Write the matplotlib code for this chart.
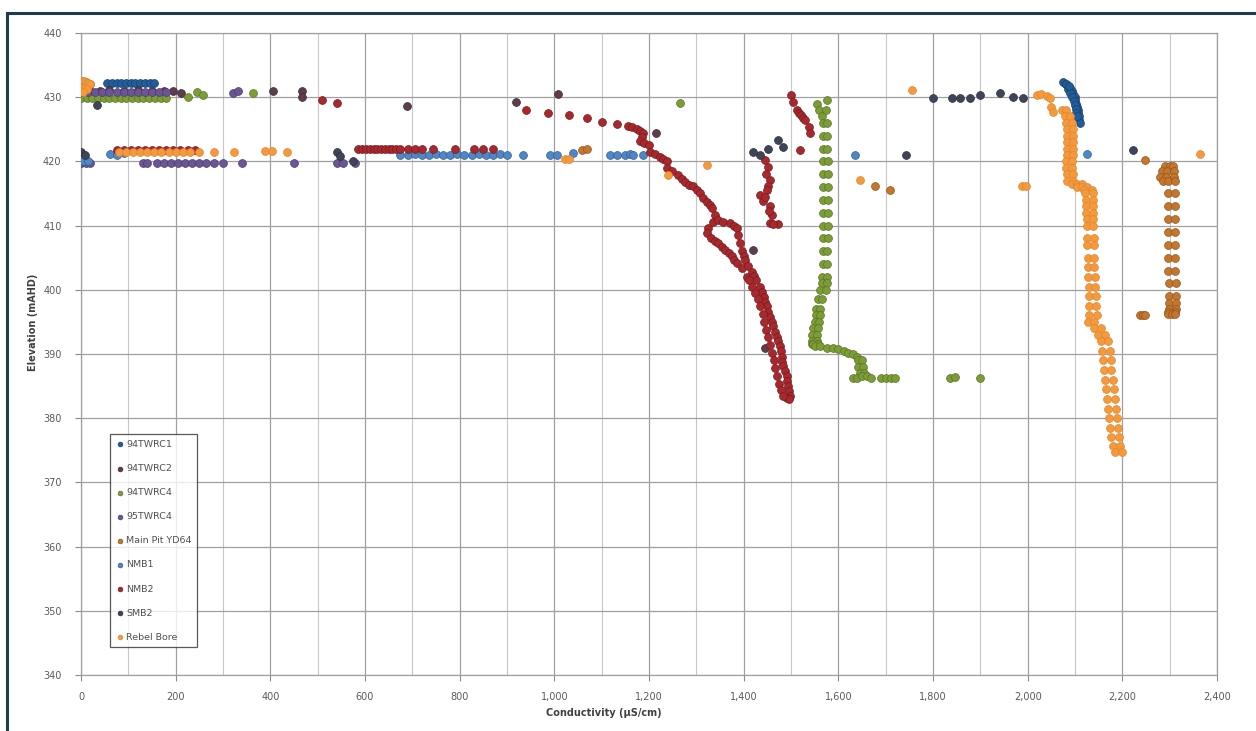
import matplotlib
matplotlib.use("Agg")
import matplotlib.pyplot as plt
from matplotlib.lines import Line2D
from matplotlib.ticker import MultipleLocator, FuncFormatter

# ---------------- data ----------------
series_names = ["94TWRC1", "94TWRC2", "94TWRC4", "95TWRC4", "Main Pit YD64",
                "NMB1", "NMB2", "SMB2", "Rebel Bore"]

# 94TWRC1
twrc1_x = [55, 65, 75, 85, 95, 105, 115, 125, 135, 145, 155,
           2075, 2080, 2085, 2090, 2093, 2096, 2099, 2101, 2103, 2105, 2106, 2107, 2108, 2109, 2110,
           2085, 2090, 2094, 2097, 2100, 2102, 2103, 2104, 2082, 2088]
twrc1_y = [432.2, 432.2, 432.2, 432.2, 432.2, 432.2, 432.2, 432.2, 432.2, 432.2, 432.2,
           432.3, 432.0, 431.8, 431.5, 431.0, 430.5, 430.0, 429.5, 429.0, 428.5, 428.0, 427.5, 427.0, 426.5, 426.0,
           431.2, 430.6, 430.0, 429.4, 428.8, 428.2, 427.5, 427.0, 432.1, 431.7]

# 94TWRC2
twrc2_x = [406, 466, 466, 688, 920, 1007, 1215, 1420, 1445, 195, 212, 20, 40, 60, 90, 120, 150, 175]
twrc2_y = [431.0, 430.9, 430.1, 428.6, 429.2, 430.5, 424.4, 406.2, 390.9, 430.9, 430.6,
           431.0, 431.0, 431.1, 431.0, 431.1, 431.0, 431.0]

# 94TWRC4
twrc4_x = [0, 12, 24, 36, 48, 60, 72, 84, 96, 108, 120, 132, 144, 156, 168, 180,
           226, 246, 257, 364, 1266,
           1554, 1560, 1566, 1575, 1573,
           1567, 1577, 1567, 1577, 1567, 1577, 1568, 1578, 1568, 1578, 1568, 1578, 1568, 1578,
           1568, 1578, 1568, 1578, 1568, 1578, 1567, 1577, 1567, 1577, 1566, 1576, 1565, 1575,
           1562, 1574, 1556, 1566, 1552, 1562, 1552, 1562, 1550, 1560, 1546, 1556, 1545, 1555,
           1545, 1555, 1545, 1555, 1546, 1556,
           1550, 1562, 1575, 1588, 1600, 1612, 1620, 1630, 1640, 1642, 1650, 1642, 1652, 1645, 1655,
           1630, 1640, 1650, 1660, 1670, 1690, 1700, 1712, 1720, 1836, 1847, 1899]
twrc4_y = [429.9] * 16 + [430.0, 430.8, 430.3, 430.6, 429.1,
           429.0, 428.0, 427.0, 429.5, 428.0,
           426.0, 426.0, 424.0, 424.0, 422.0, 422.0, 420.0, 420.0, 418.0, 418.0, 416.0, 416.0, 414.0, 414.0,
           412.0, 412.0, 410.0, 410.0, 408.0, 408.0, 406.0, 406.0, 404.0, 404.0, 402.0, 402.0, 401.0, 401.0,
           400.0, 400.0, 398.5, 398.5, 397.0, 397.0, 396.0, 396.0, 395.0, 395.0, 394.0, 394.0, 393.0, 393.0,
           392.0, 392.0, 391.5, 391.5, 391.5, 391.5,
           391.2, 391.2, 391.0, 391.0, 390.8, 390.5, 390.2, 390.0, 389.6, 389.0, 389.0, 388.0, 388.0, 387.0, 387.0,
           386.3, 386.3, 386.5, 386.5, 386.2, 386.2, 386.2, 386.2, 386.2, 386.2, 386.4, 386.2]

# 95TWRC4
p95_x = [0, 10, 20, 131, 140, 160, 175, 190, 205, 220, 235, 250, 265, 280, 300, 340, 449, 540, 554, 579,
         0, 15, 30, 45, 60, 75, 90, 105, 120, 135, 150, 165, 180, 322, 332]
p95_y = [419.7] * 20 + [430.8] * 13 + [430.6, 431.0]

# Main Pit YD64
mainpit_x = [5, 10, 15, 20,
             2290, 2300, 2308, 2283, 2295, 2310, 2280, 2292, 2310, 2285, 2297, 2311,
             2296, 2311, 2296, 2311, 2296, 2312, 2297, 2312, 2297, 2312, 2297, 2312, 2297, 2312,
             2298, 2313, 2298, 2313, 2298, 2313, 2298, 2313, 2297, 2312,
             2297, 2305, 2312, 2237, 2243, 2248, 2248, 1677, 1709, 1058, 1070]
mainpit_y = [432.0, 432.3, 431.8, 432.1,
             419.3, 419.3, 419.3, 418.5, 418.5, 418.5, 417.5, 417.5, 417.5, 417.0, 417.0, 417.0,
             415.0, 415.0, 413.0, 413.0, 411.0, 411.0, 409.0, 409.0, 407.0, 407.0, 405.0, 405.0, 403.0, 403.0,
             401.0, 401.0, 399.0, 399.0, 398.0, 398.0, 397.0, 397.0, 396.5, 396.5,
             396.2, 396.2, 396.2, 396.1, 396.1, 396.1, 420.2, 416.1, 415.5, 421.8, 421.9]

# NMB1
nmb1_x = [5, 15, 61, 75, 90, 674, 690, 705, 720, 735, 750, 765, 780, 795, 810, 825, 840, 855, 870, 885,
          900, 934, 991, 1005, 1040, 1118, 1132, 1149, 1160, 1166, 1188, 1635, 2125]
nmb1_y = [420.0, 420.0, 421.2, 421.0, 421.3, 421.0, 421.0, 421.2, 421.0, 421.0, 421.2, 421.0, 421.0, 421.2,
          421.0, 421.0, 421.2, 421.0, 421.0, 421.2, 421.0, 421.0, 421.0, 421.0, 421.3, 421.0, 421.0, 421.0,
          421.1, 421.0, 421.0, 421.0, 421.2]

# NMB2
nmb2_x = [510, 541, 940, 987, 1030, 1068, 1100, 1132, 1156, 1165, 1174, 1182, 1188, 1185, 1181, 1190, 1199,
          1202, 1212, 1223, 1230, 1237, 1237, 1248, 1262, 1269, 1276, 1285, 1294, 1301, 1308, 1315, 1322,
          1328, 1333, 1340, 1336, 1325, 1322, 1332, 1339, 1346, 1354, 1361, 1368, 1375, 1380, 1385, 1396, 1406,
          1345, 1357, 1371, 1380, 1385, 1389, 1392, 1396, 1400, 1403, 1410, 1417, 1422, 1427, 1434, 1438, 1442,
          1446, 1449, 1452, 1456, 1460, 1463, 1466, 1470, 1473, 1477, 1479, 1480, 1482, 1484, 1488, 1491, 1492,
          1494, 1496, 1498, 1492, 1495,
          1412, 1418, 1424, 1430, 1435, 1440, 1444, 1448, 1452, 1456, 1460, 1464, 1467, 1470, 1474, 1478, 1484,
          1445, 1452, 1448, 1456, 1452, 1435, 1441, 1456, 1459, 1456, 1473, 1462, 1450, 1446, 1454,
          1501, 1505, 1512, 1517, 1522, 1526, 1530, 1537, 1540, 1520,
          586, 594, 602, 610, 618, 626, 634, 642, 650, 658, 666, 674, 690, 705, 720, 744, 790, 830, 850, 871,
          75, 90, 105, 120, 135, 150, 165, 180, 195, 210, 225, 240]
nmb2_y = [429.6, 429.1, 428.0, 427.6, 427.2, 426.7, 426.2, 425.8, 425.5, 425.3, 425.1, 424.8, 424.4, 423.8,
          423.1, 422.8, 422.6, 421.5, 421.1, 420.7, 420.3, 420.0, 419.0, 418.5, 417.9, 417.3, 416.8, 416.4,
          416.1, 415.5, 415.0, 414.3, 413.7, 413.2, 412.7, 411.7, 410.6, 409.6, 408.8, 408.0, 407.6, 407.3,
          406.7, 406.2, 405.7, 405.2, 404.6, 404.1, 403.4, 402.0,
          410.8, 410.6, 410.4, 410.0, 409.6, 408.6, 407.3, 406.0, 405.3, 404.7, 403.7, 402.8, 402.1, 401.5,
          400.5, 399.7, 398.9, 398.1, 397.4, 396.6, 395.8, 395.0, 394.3, 393.5, 392.7, 392.0, 391.2, 390.4,
          389.6, 388.8, 388.1, 387.3, 386.5, 385.8, 385.0, 384.2, 383.4, 383.2, 383.0,
          401.5, 400.5, 399.5, 398.5, 397.4, 396.2, 395.0, 393.8, 392.6, 391.4, 390.2, 389.0, 387.8, 386.6,
          385.4, 384.4, 383.5,
          420.2, 419.2, 418.1, 417.1, 416.1, 414.8, 413.8, 413.0, 411.7, 410.4, 410.2, 410.3, 415.5, 414.5, 412.3,
          430.3, 429.3, 428.0, 427.6, 427.2, 426.8, 426.4, 425.4, 424.4, 421.8,
          421.9, 421.9, 421.9, 421.9, 421.9, 421.9, 421.9, 421.9, 421.9, 421.9, 421.9, 421.9, 421.9, 421.9,
          421.9, 421.9, 421.9, 421.9, 421.9, 421.9,
          421.8, 421.8, 421.8, 421.8, 421.8, 421.8, 421.8, 421.8, 421.8, 421.8, 421.8, 421.8]

# SMB2
smb2_x = [1801, 1840, 1857, 1878, 1899, 1942, 1970, 1991, 1744, 2223, 1420, 1434, 1452, 1473, 1484, 33,
          540, 547, 575, 0, 8]
smb2_y = [429.8, 429.9, 429.9, 429.9, 430.3, 430.6, 430.1, 429.8, 421.0, 421.8, 421.5, 421.0, 421.9, 423.4,
          422.3, 428.8, 421.5, 420.8, 420.0, 421.5, 421.0]

# Rebel Bore
rebel_x = [2, 6, 10, 14, 18, 3, 8, 12, 4,
           80, 95, 110, 125, 140, 155, 170, 185, 200, 215, 230, 250, 281, 323, 389, 403, 435,
           1023, 1031, 1241, 1322, 1646, 1987, 1997, 2364, 1755,
           2019, 2028, 2040, 2047, 2050, 2054,
           2072, 2080, 2079, 2090, 2082, 2094, 2084, 2096, 2084, 2096, 2084, 2096, 2084, 2096, 2084, 2096,
           2082, 2094, 2082, 2094, 2083, 2095, 2084, 2096, 2093, 2104, 2115, 2105, 2115, 2125, 2118, 2135,
           2122, 2138, 2124, 2138, 2124, 2138, 2124, 2138, 2125, 2139, 2125, 2139, 2126, 2140, 2126, 2140,
           2127, 2141, 2127, 2141, 2128, 2142, 2129, 2143, 2130, 2144, 2130, 2144, 2130, 2146, 2128, 2140,
           2140, 2155, 2148, 2163, 2155, 2170, 2158, 2173, 2160, 2175, 2162, 2177, 2164, 2180, 2166, 2182,
           2168, 2184, 2170, 2186, 2172, 2188, 2174, 2190, 2177, 2193, 2180, 2196, 2185, 2200]
rebel_y = [432.5, 432.6, 432.4, 432.2, 432.0, 431.5, 431.5, 431.2, 430.8,
           421.4, 421.4, 421.4, 421.4, 421.4, 421.4, 421.4, 421.4, 421.4, 421.4, 421.4, 421.4, 421.5, 421.5,
           421.6, 421.6, 421.5,
           420.4, 420.4, 417.9, 419.4, 417.1, 416.1, 416.1, 421.2, 431.1,
           430.3, 430.5, 430.2, 429.8, 428.5, 427.7,
           428.0, 428.0, 427.0, 427.0, 426.0, 426.0, 425.0, 425.0, 424.0, 424.0, 423.0, 423.0, 422.0, 422.0,
           421.0, 421.0, 420.0, 420.0, 419.0, 419.0, 418.0, 418.0, 417.0, 417.0, 416.5, 416.5, 416.5, 416.0,
           416.0, 416.0, 415.5, 415.5, 415.0, 415.0, 414.0, 414.0, 413.0, 413.0, 412.0, 412.0, 411.0, 411.0,
           410.0, 410.0, 408.0, 408.0, 407.0, 407.0, 405.0, 405.0, 403.5, 403.5, 402.0, 402.0, 400.5, 400.5,
           399.0, 399.0, 397.5, 397.5, 396.0, 396.0, 395.0, 395.0,
           394.0, 394.0, 393.0, 393.0, 392.0, 392.0, 390.5, 390.5, 389.0, 389.0, 387.5, 387.5, 386.0, 386.0,
           384.5, 384.5, 383.0, 383.0, 381.5, 381.5, 380.0, 380.0, 378.5, 378.5, 377.0, 377.0, 375.7, 375.7,
           374.7, 374.7]

series_x = [twrc1_x, twrc2_x, twrc4_x, p95_x, mainpit_x, nmb1_x, nmb2_x, smb2_x, rebel_x]
series_y = [twrc1_y, twrc2_y, twrc4_y, p95_y, mainpit_y, nmb1_y, nmb2_y, smb2_y, rebel_y]

x_ticks = list(range(0, 2401, 200))
y_ticks = list(range(340, 441, 10))

# ---------------- styling ----------------
face_colors = ["#215d9a", "#5c3d4d", "#7c9c36", "#6b5595", "#c4762c",
               "#4f86c6", "#a8282e", "#404457", "#f5993d"]
edge_colors = ["#17426f", "#3e2834", "#5a7526", "#4b3a6c", "#935520",
               "#375f8e", "#721b1f", "#2b2e3b", "#e0852f"]

fig = plt.figure(figsize=(12.56, 7.31), dpi=100)
ax = fig.add_axes([81 / 1256, 1 - 675 / 731, (1217 - 81) / 1256, (675 - 33) / 731])

for name, xs, ys, fc, ec in zip(series_names, series_x, series_y, face_colors, edge_colors):
    n = min(len(xs), len(ys))
    ax.scatter(xs[:n], ys[:n], s=32, c=fc, edgecolors=ec, linewidths=0.5, label=name, zorder=3)

ax.set_xlim(0, 2400)
ax.set_ylim(340, 440)
ax.set_xticks(x_ticks)
ax.set_yticks(y_ticks)
ax.xaxis.set_minor_locator(MultipleLocator(100))
ax.xaxis.set_major_formatter(FuncFormatter(lambda v, p: f"{int(v):,}"))

ax.grid(True, which="major", color="#a0a0a0", linewidth=0.9, zorder=0)
ax.grid(True, which="minor", axis="x", color="#c8c8c8", linewidth=0.8, zorder=0)
ax.set_axisbelow(True)

for side in ["top", "right", "left", "bottom"]:
    ax.spines[side].set_color("#a0a0a0")
    ax.spines[side].set_linewidth(0.9)

ax.tick_params(axis="both", which="major", labelsize=7, labelcolor="#5a5a5a",
               color="#8a8a8a", length=4)
ax.tick_params(axis="x", which="minor", length=0)
ax.tick_params(axis="y", pad=10)
ax.tick_params(axis="x", pad=8)

ax.set_xlabel("Conductivity (µS/cm)", fontsize=7, fontweight="bold", color="#404040")
ax.xaxis.set_label_coords(0.46, -0.052)
ax.set_ylabel("Elevation (mAHD)", fontsize=7, fontweight="bold", color="#404040")
ax.yaxis.set_label_coords(-0.038, 0.55)

leg = ax.legend(loc="upper left", bbox_to_anchor=(0.0255, 0.375), borderaxespad=0,
                fontsize=6.8, frameon=True, fancybox=False, labelspacing=1.6,
                handletextpad=0.1, handlelength=1.0, markerscale=0.6, borderpad=0.6)
leg.get_frame().set_edgecolor("#303030")
leg.get_frame().set_linewidth(0.9)
for t in leg.get_texts():
    t.set_color("#505050")

# figure frame (navy border at left and top)
fig.add_artist(Line2D([7 / 1256, 7 / 1256], [0, 1 - 13 / 731], color="#1f3b52", linewidth=2.2))
fig.add_artist(Line2D([7 / 1256, 1], [1 - 13 / 731, 1 - 13 / 731], color="#1f3b52", linewidth=2.2))

fig.savefig("out.png", dpi=100)
